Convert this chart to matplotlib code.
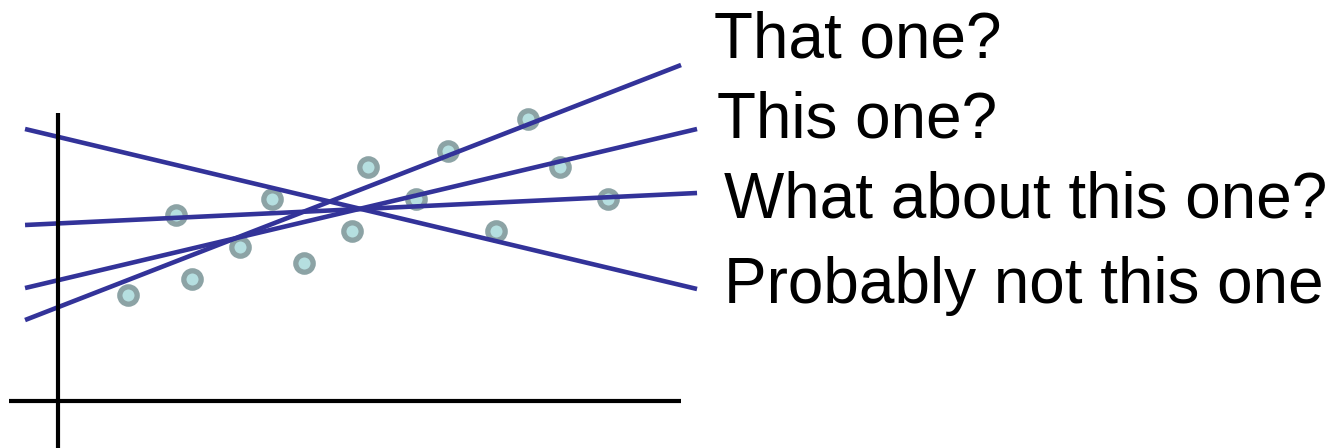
import matplotlib.pyplot as plt

# scatter data (arbitrary units, origin at the axes crossing)
pts_x = [4.4, 7.4, 8.4, 11.4, 13.4, 15.4, 18.4, 19.4, 22.4, 24.4, 27.4, 29.4, 31.4, 34.4]
pts_y = [6.6, 11.6, 7.6, 9.6, 12.6, 8.6, 10.6, 14.6, 12.6, 15.6, 10.6, 17.6, 14.6, 12.6]

# candidate fit lines: (x0, y0, x1, y1) and their captions
lines = [
    (-2.06, 5.06, 38.94, 21.0),
    (-2.06, 7.06, 39.94, 17.0),
    (-2.06, 11.0, 39.94, 13.0),
    (-2.06, 17.0, 39.94, 7.0),
]
captions = ["That one?", "This one?", "What about this one?", "Probably not this one"]
caption_x = [41.0, 41.2, 41.6, 41.6]
caption_y = [21.5, 16.5, 11.5, 6.1]

fig = plt.figure(figsize=(13.32, 4.48), dpi=100)
ax = fig.add_axes([0, 0, 1, 1])
ax.set_xlim(-3.625, 79.625)
ax.set_ylim(-2.9375, 25.0625)
ax.axis("off")

# hand-drawn style axes
ax.plot([0, 0], [-2.94, 18.0], color="black", lw=3, solid_capstyle="butt", zorder=4)
ax.plot([-3.06, 38.94], [0, 0], color="black", lw=3, solid_capstyle="butt", zorder=4)

ax.plot(pts_x, pts_y, "o", ms=12.5, mew=3.8, mfc="#b5dfe0", mec="#8ca3a5", zorder=2)

for x0, y0, x1, y1 in lines:
    ax.plot([x0, x1], [y0, y1], color="#333399", lw=3.3, solid_capstyle="butt", zorder=3)

for txt, tx, ty in zip(captions, caption_x, caption_y):
    ax.text(tx, ty, txt, fontsize=46, family="Liberation Sans", va="baseline", ha="left")

fig.savefig("out.png", dpi=100)
